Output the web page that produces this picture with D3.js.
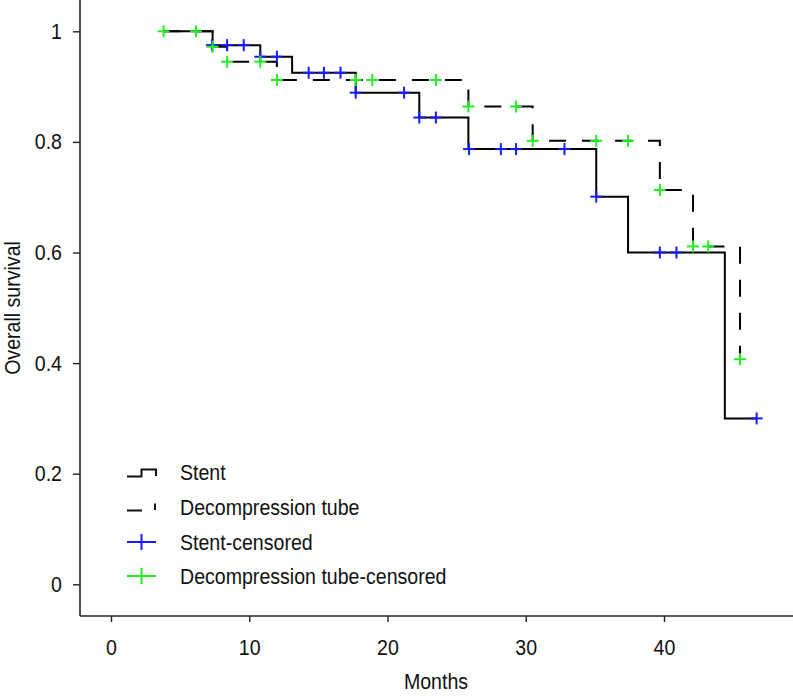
<!DOCTYPE html>
<html>
<head>
<meta charset="utf-8">
<script src="https://cdn.jsdelivr.net/npm/d3@7"></script>
<style>
  body { margin: 0; background: #fff; }
  svg text { font-family: "Liberation Sans", Arial, sans-serif; fill: #111; }
</style>
</head>
<body>
<svg width="793" height="696"></svg>
<script>
// Kaplan-Meier steps: time (months) where survival changes, and the survival after it
var stentTimes = [3.8, 7.35, 10.8, 13.1, 17.7, 22.3, 25.85, 35.1, 37.4, 44.4, 46.7];
var stentSurv  = [1, 0.975, 0.954, 0.925, 0.889, 0.844, 0.787, 0.701, 0.600, 0.300, 0.300];

var tubeTimes = [3.8, 7.35, 8.4, 12.0, 25.85, 30.5, 39.7, 42.1, 45.5];
var tubeSurv  = [1, 0.972, 0.945, 0.912, 0.864, 0.802, 0.713, 0.611, 0.407];

// censored marks
var stentCensTimes = [7.3, 8.4, 9.6, 10.8, 12.0, 14.3, 15.4, 16.6, 17.7, 21.2, 22.3, 23.5, 25.9, 28.2, 29.3, 32.8, 35.1, 39.7, 40.9, 46.7];
var stentCensSurv  = [0.975, 0.975, 0.975, 0.954, 0.954, 0.925, 0.925, 0.925, 0.889, 0.889, 0.844, 0.844, 0.787, 0.787, 0.787, 0.787, 0.701, 0.600, 0.600, 0.300];

var tubeCensTimes = [3.8, 6.15, 7.35, 8.4, 10.8, 12.0, 17.7, 18.9, 23.5, 25.85, 29.3, 30.5, 35.1, 37.4, 39.7, 42.1, 43.2, 45.5];
var tubeCensSurv  = [1, 1, 0.972, 0.945, 0.945, 0.912, 0.912, 0.912, 0.912, 0.864, 0.864, 0.802, 0.802, 0.802, 0.713, 0.611, 0.611, 0.407];

var xTicks = [0, 10, 20, 30, 40];
var yTicks = [0, 0.2, 0.4, 0.6, 0.8, 1];
var legendLabels = ["Stent", "Decompression tube", "Stent-censored", "Decompression tube-censored"];

var narrow = 0.89; // squeeze text to look like a condensed face
var fontSize = 22;

var svg = d3.select("svg");

var x = d3.scaleLinear().domain([0, 40]).range([111, 664]);
var y = d3.scaleLinear().domain([0, 1]).range([584.3, 31.3]);

var axisX0 = 80, axisY0 = 616;

// axes
var xAxis = d3.axisBottom(x).tickValues(xTicks).tickFormat(d3.format("d")).tickSize(6).tickPadding(17);
var gx = svg.append("g").attr("transform", "translate(0," + axisY0 + ")").call(xAxis);
gx.select(".domain").remove();
gx.append("line").attr("x1", axisX0).attr("x2", 793).attr("stroke", "#222").attr("stroke-width", 1.6);
gx.selectAll(".tick text").attr("transform", "scale(" + narrow + ",1)");

var yAxis = d3.axisLeft(y).tickValues(yTicks).tickFormat(function(d) { return d === 0 || d === 1 ? d : d.toFixed(1); }).tickSize(7).tickPadding(11);
var gy = svg.append("g").attr("transform", "translate(" + axisX0 + ",0)").call(yAxis);
gy.select(".domain").remove();
gy.append("line").attr("y1", 0).attr("y2", axisY0).attr("stroke", "#222").attr("stroke-width", 1.6);
gy.selectAll(".tick text").attr("x", -18 / narrow).attr("transform", "scale(" + narrow + ",1)");

svg.selectAll(".tick line").attr("stroke", "#222").attr("stroke-width", 1.4);
svg.selectAll(".tick text").attr("font-size", fontSize).attr("fill", "#111")
   .attr("font-family", '"Liberation Sans", Arial, sans-serif');

function label(tx, ty, rot, anchor, str) {
  svg.append("g").attr("transform", "translate(" + tx + "," + ty + ") rotate(" + rot + ") scale(" + narrow + ",1)")
     .append("text").attr("text-anchor", anchor).attr("font-size", fontSize).text(str);
}
label(436, 689, 0, "middle", "Months");
label(20, 308, -90, "middle", "Overall survival");

// step curves
function stepPath(times, surv) {
  var pts = times.map(function(t, i) { return [x(t), y(surv[i])]; });
  return d3.line().curve(d3.curveStepAfter)(pts);
}

svg.append("path").attr("d", stepPath(tubeTimes, tubeSurv))
   .attr("fill", "none").attr("stroke", "#000").attr("stroke-width", 2).attr("stroke-dasharray", "17,16");
svg.append("path").attr("d", stepPath(stentTimes, stentSurv))
   .attr("fill", "none").attr("stroke", "#000").attr("stroke-width", 2);

function drawCens(times, surv, color) {
  var g = svg.append("g").attr("stroke", color).attr("stroke-width", 2);
  times.forEach(function(t, i) {
    var cx = x(t), cy = y(surv[i]);
    g.append("line").attr("x1", cx - 6).attr("x2", cx + 6).attr("y1", cy).attr("y2", cy);
    g.append("line").attr("x1", cx).attr("x2", cx).attr("y1", cy - 6).attr("y2", cy + 6);
  });
}
drawCens(stentCensTimes, stentCensSurv, "#1a1aff");
drawCens(tubeCensTimes, tubeCensSurv, "#22ee22");

// legend
var leg = svg.append("g");
var rowY = [472, 507, 542, 576];
leg.append("path").attr("d", "M127,476.5H141.5V469.5H156V476").attr("fill", "none").attr("stroke", "#111").attr("stroke-width", 2);
leg.append("path").attr("d", "M127,510.5H142M155,503.5V510").attr("fill", "none").attr("stroke", "#111").attr("stroke-width", 2);
[["#1a1aff", rowY[2]], ["#22ee22", rowY[3]]].forEach(function(c) {
  leg.append("path").attr("d", "M127," + c[1] + "H156M141.5," + (c[1] - 8) + "V" + (c[1] + 8))
     .attr("fill", "none").attr("stroke", c[0]).attr("stroke-width", 2);
});
legendLabels.forEach(function(d, i) {
  leg.append("g").attr("transform", "translate(180," + rowY[i] + ") scale(" + narrow + ",1)")
     .append("text").attr("dy", "0.36em").attr("font-size", fontSize).text(d);
});
</script>
</body>
</html>
